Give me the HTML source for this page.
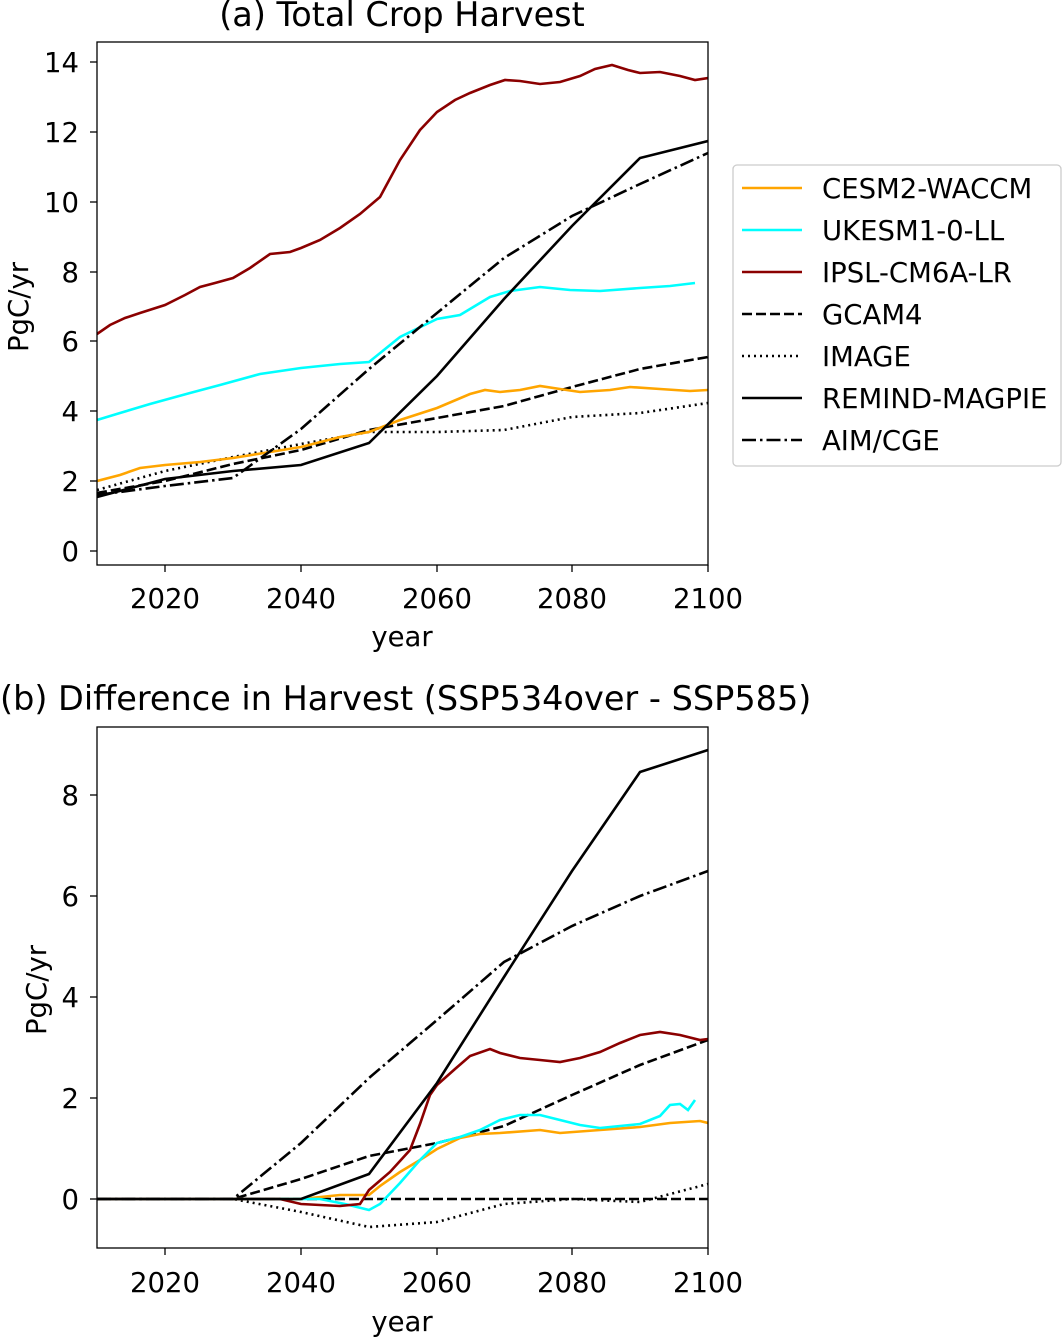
<!DOCTYPE html>
<html><head><meta charset="utf-8"><style>
body{margin:0;background:#fff;}
svg text{font-family:"DejaVu Sans","Liberation Sans",sans-serif;fill:#000;}
</style></head><body>
<svg width="1063" height="1338" viewBox="0 0 1063 1338" xmlns="http://www.w3.org/2000/svg">
<defs>
<clipPath id="ca"><rect x="97" y="42" width="611" height="523"/></clipPath>
<clipPath id="cb"><rect x="97" y="727" width="611" height="521"/></clipPath>
</defs>
<g font-size="27.5">
<!-- Panel a -->
<text x="402" y="26" text-anchor="middle" font-size="33.5">(a) Total Crop Harvest</text>
<g clip-path="url(#ca)" fill="none" stroke-width="2.6">
<polyline stroke="#000" stroke-dasharray="2,4" points="97,490 165,471 233,457 301,444 369,432 437,432 504,430 572,417 640,413 708,403"/>
<polyline stroke="#000" stroke-dasharray="10,4" points="97,493 165,481 233,464 301,450 369,430 437,418 504,406 572,387 640,369 708,357"/>
<polyline stroke="orange" points="97,481 120,475 140,468 165,465 200,462 233,458 270,452 301,447 340,437 369,432 400,420 437,408 470,394 485,390 500,392 520,390 540,386 560,389 580,392 610,390 630,387 660,389 690,391 708,390"/>
<polyline stroke="cyan" points="97,420 120,413 150,404 190,393 220,385 260,374 301,368 340,364 369,362 400,337 437,319 460,315 490,297 510,291 540,287 570,290 600,291 640,288 670,286 695,283"/>
<polyline stroke="#8b0000" points="97,334 110,325 125,318 140,313 165,305 185,295 200,287 215,283 233,278 250,268 270,254 290,252 301,248 320,240 340,228 360,214 380,197 400,160 420,130 437,112 455,100 470,93 490,85 505,80 520,81 540,84 560,82 580,76 595,69 612,65 628,70 640,73 660,72 680,76 695,80 708,78"/>
<polyline stroke="#000" points="97,497 165,479 233,471 301,465 369,443 437,376 504,299 572,226 640,158 708,141"/>
<polyline stroke="#000" stroke-dasharray="14,4,2.5,4" points="97,495 165,486 233,478 301,429 369,369 437,313 504,258 572,216 640,184 708,153"/>
</g>
<rect x="97" y="42" width="611" height="523" fill="none" stroke="#000" stroke-width="1.3"/>
<g stroke="#000" stroke-width="1.3">
<line x1="97" x2="90" y1="551" y2="551"/><line x1="97" x2="90" y1="481" y2="481"/><line x1="97" x2="90" y1="411" y2="411"/><line x1="97" x2="90" y1="341" y2="341"/><line x1="97" x2="90" y1="272" y2="272"/><line x1="97" x2="90" y1="202" y2="202"/><line x1="97" x2="90" y1="132" y2="132"/><line x1="97" x2="90" y1="62" y2="62"/>
<line x1="165" x2="165" y1="565" y2="572"/><line x1="301" x2="301" y1="565" y2="572"/><line x1="437" x2="437" y1="565" y2="572"/><line x1="572" x2="572" y1="565" y2="572"/><line x1="708" x2="708" y1="565" y2="572"/>
</g>
<g text-anchor="end">
<text x="79" y="561">0</text><text x="79" y="491">2</text><text x="79" y="421">4</text><text x="79" y="351">6</text><text x="79" y="282">8</text><text x="79" y="212">10</text><text x="79" y="142">12</text><text x="79" y="72">14</text>
</g>
<g text-anchor="middle">
<text x="165" y="608">2020</text><text x="301" y="608">2040</text><text x="437" y="608">2060</text><text x="572" y="608">2080</text><text x="708" y="608">2100</text>
<text x="402" y="646">year</text>
</g>
<text transform="translate(28,307) rotate(-90)" text-anchor="middle">PgC/yr</text>
<!-- legend -->
<rect x="733" y="165" width="328" height="301" rx="4" fill="#fff" stroke="#ccc" stroke-width="1.3"/>
<g fill="none" stroke-width="2.6">
<line x1="742" x2="802" y1="188" y2="188" stroke="orange"/>
<line x1="742" x2="802" y1="230" y2="230" stroke="cyan"/>
<line x1="742" x2="802" y1="272" y2="272" stroke="#8b0000"/>
<line x1="742" x2="802" y1="314" y2="314" stroke="#000" stroke-dasharray="10,4"/>
<line x1="742" x2="802" y1="356" y2="356" stroke="#000" stroke-dasharray="2,4"/>
<line x1="742" x2="802" y1="398" y2="398" stroke="#000"/>
<line x1="742" x2="802" y1="440" y2="440" stroke="#000" stroke-dasharray="14,4,2.5,4"/>
</g>
<text x="822" y="198">CESM2-WACCM</text>
<text x="822" y="240">UKESM1-0-LL</text>
<text x="822" y="282">IPSL-CM6A-LR</text>
<text x="822" y="324">GCAM4</text>
<text x="822" y="366">IMAGE</text>
<text x="822" y="408">REMIND-MAGPIE</text>
<text x="822" y="450">AIM/CGE</text>

<!-- Panel b -->
<text x="0" y="710" font-size="33.5">(b) Difference in Harvest (SSP534over - SSP585)</text>
<g clip-path="url(#cb)" fill="none" stroke-width="2.6">
<polyline stroke="#000" stroke-dasharray="2,4" points="97,1199 233,1199 301,1212 369,1227 437,1222 504,1204 572,1199 640,1202 708,1184"/>
<polyline stroke="#000" stroke-dasharray="10,4" points="97,1199 708,1199"/>
<polyline stroke="#000" stroke-dasharray="10,4" points="97,1199 233,1199 301,1179 369,1156 437,1143 504,1126 572,1095 640,1065 708,1040"/>
<polyline stroke="orange" points="97,1199 301,1199 340,1195 369,1195 380,1186 400,1172 420,1160 437,1149 460,1138 480,1134 500,1133 540,1130 560,1133 600,1130 640,1127 670,1123 700,1121 708,1123"/>
<polyline stroke="cyan" points="97,1199 320,1199 345,1204 369,1210 380,1204 400,1183 420,1160 437,1143 460,1137 480,1130 500,1120 520,1115 540,1115 560,1120 580,1125 600,1128 620,1126 640,1124 660,1116 670,1105 680,1104 688,1110 695,1100"/>
<polyline stroke="#8b0000" points="97,1199 280,1199 301,1204 320,1205 340,1206 360,1204 369,1190 390,1172 410,1150 420,1124 430,1095 437,1085 455,1069 470,1056 490,1049 500,1053 520,1058 540,1060 560,1062 580,1058 600,1052 620,1043 640,1035 660,1032 680,1035 700,1040 708,1039"/>
<polyline stroke="#000" points="97,1199 301,1199 369,1174 437,1083 504,977 572,871 640,772 708,750"/>
<polyline stroke="#000" stroke-dasharray="14,4,2.5,4" points="97,1199 233,1199 301,1143 369,1078 437,1020 504,962 572,926 640,896 708,871"/>
</g>
<rect x="97" y="727" width="611" height="521" fill="none" stroke="#000" stroke-width="1.3"/>
<g stroke="#000" stroke-width="1.3">
<line x1="97" x2="90" y1="1199" y2="1199"/><line x1="97" x2="90" y1="1098" y2="1098"/><line x1="97" x2="90" y1="997" y2="997"/><line x1="97" x2="90" y1="896" y2="896"/><line x1="97" x2="90" y1="795" y2="795"/>
<line x1="165" x2="165" y1="1248" y2="1255"/><line x1="301" x2="301" y1="1248" y2="1255"/><line x1="437" x2="437" y1="1248" y2="1255"/><line x1="572" x2="572" y1="1248" y2="1255"/><line x1="708" x2="708" y1="1248" y2="1255"/>
</g>
<g text-anchor="end">
<text x="79" y="1209">0</text><text x="79" y="1108">2</text><text x="79" y="1007">4</text><text x="79" y="906">6</text><text x="79" y="805">8</text>
</g>
<g text-anchor="middle">
<text x="165" y="1292">2020</text><text x="301" y="1292">2040</text><text x="437" y="1292">2060</text><text x="572" y="1292">2080</text><text x="708" y="1292">2100</text>
<text x="402" y="1331">year</text>
</g>
<text transform="translate(46,990) rotate(-90)" text-anchor="middle">PgC/yr</text>
</g>
</svg>
</body></html>
